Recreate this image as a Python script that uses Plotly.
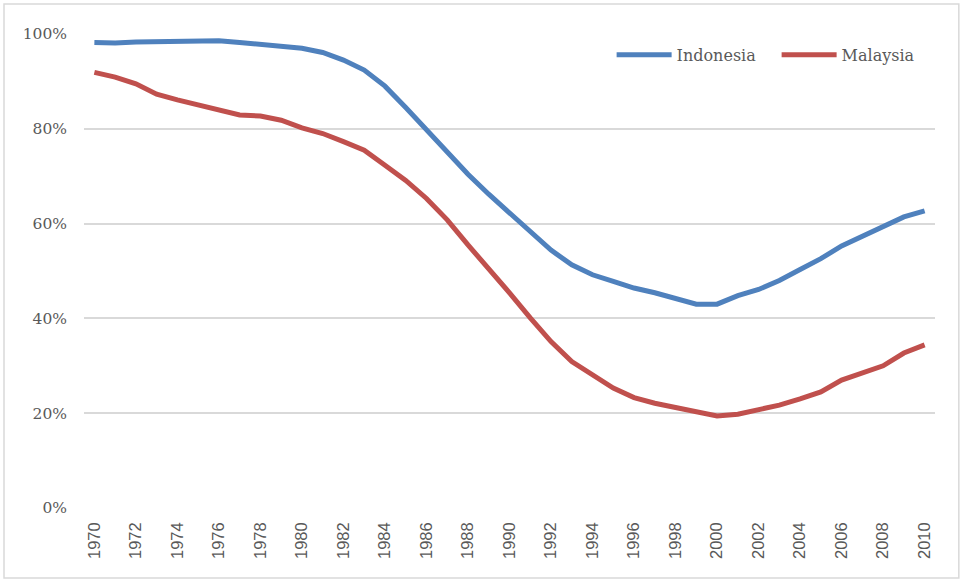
import plotly.graph_objects as go

# Share of population (fraction) by year
years = list(range(1970, 2011))

indonesia = [0.982, 0.981, 0.983, 0.984, 0.985, 0.985, 0.986, 0.982, 0.978, 0.975, 0.970,
             0.961, 0.945, 0.924, 0.890, 0.845, 0.798, 0.750, 0.704, 0.662, 0.622,
             0.582, 0.544, 0.513, 0.492, 0.478, 0.464, 0.454, 0.442, 0.430, 0.430,
             0.448, 0.461, 0.480, 0.503, 0.526, 0.553, 0.573, 0.593, 0.614, 0.627]

malaysia = [0.919, 0.909, 0.895, 0.873, 0.861, 0.850, 0.838, 0.829, 0.827, 0.818, 0.802,
            0.790, 0.773, 0.755, 0.723, 0.691, 0.653, 0.608, 0.555, 0.506, 0.454,
            0.401, 0.351, 0.309, 0.280, 0.253, 0.233, 0.221, 0.212, 0.202, 0.194,
            0.198, 0.207, 0.217, 0.230, 0.245, 0.270, 0.284, 0.300, 0.327, 0.344]

x_ticks = list(range(1970, 2011, 2))
y_ticks = [0, 0.2, 0.4, 0.6, 0.8, 1.0]

BLUE = "#4F81BD"
RED = "#C0504D"
TEXT = "#595959"
GRID = "#D9D9D9"

fig = go.Figure()
fig.add_trace(go.Scatter(x=years, y=indonesia, name="Indonesia", mode="lines",
                         line=dict(color=BLUE, width=5)))
fig.add_trace(go.Scatter(x=years, y=malaysia, name="Malaysia", mode="lines",
                         line=dict(color=RED, width=5)))

fig.update_layout(
    width=963, height=581,
    margin=dict(l=84, r=28, t=34, b=73, autoexpand=False),
    paper_bgcolor="white", plot_bgcolor="white",
    showlegend=True,
    legend=dict(orientation="h", x=0.62, xanchor="left", y=0.956, yanchor="middle",
                font=dict(family="DejaVu Serif", size=16, color=TEXT),
                bgcolor="rgba(0,0,0,0)", itemwidth=55, entrywidth=95,
                entrywidthmode="pixels", tracegroupgap=0),
    xaxis=dict(range=[1969.5, 2010.5], tickmode="array", tickvals=x_ticks,
               ticktext=[str(v) for v in x_ticks], tickangle=-90,
               tickfont=dict(family="Liberation Sans", size=16.5, color=TEXT),
               showgrid=False, zeroline=False, showline=False, ticks="",
               ticklabelstandoff=10),
    yaxis=dict(range=[0, 1.0], tickmode="array", tickvals=y_ticks, tickformat=".0%",
               tickfont=dict(family="DejaVu Serif", size=15.5, color=TEXT),
               showgrid=True, gridcolor=GRID, gridwidth=1.5, zeroline=False,
               showline=False, ticks="", ticklabelstandoff=16),
    shapes=[
        dict(type="rect", xref="paper", yref="paper",
             x0=-0.094, x1=1.028, y0=-0.1477, y1=1.0633,
             line=dict(color=GRID, width=1.5), fillcolor="rgba(0,0,0,0)", layer="below"),
    ],
)

fig.write_html("out.html")
